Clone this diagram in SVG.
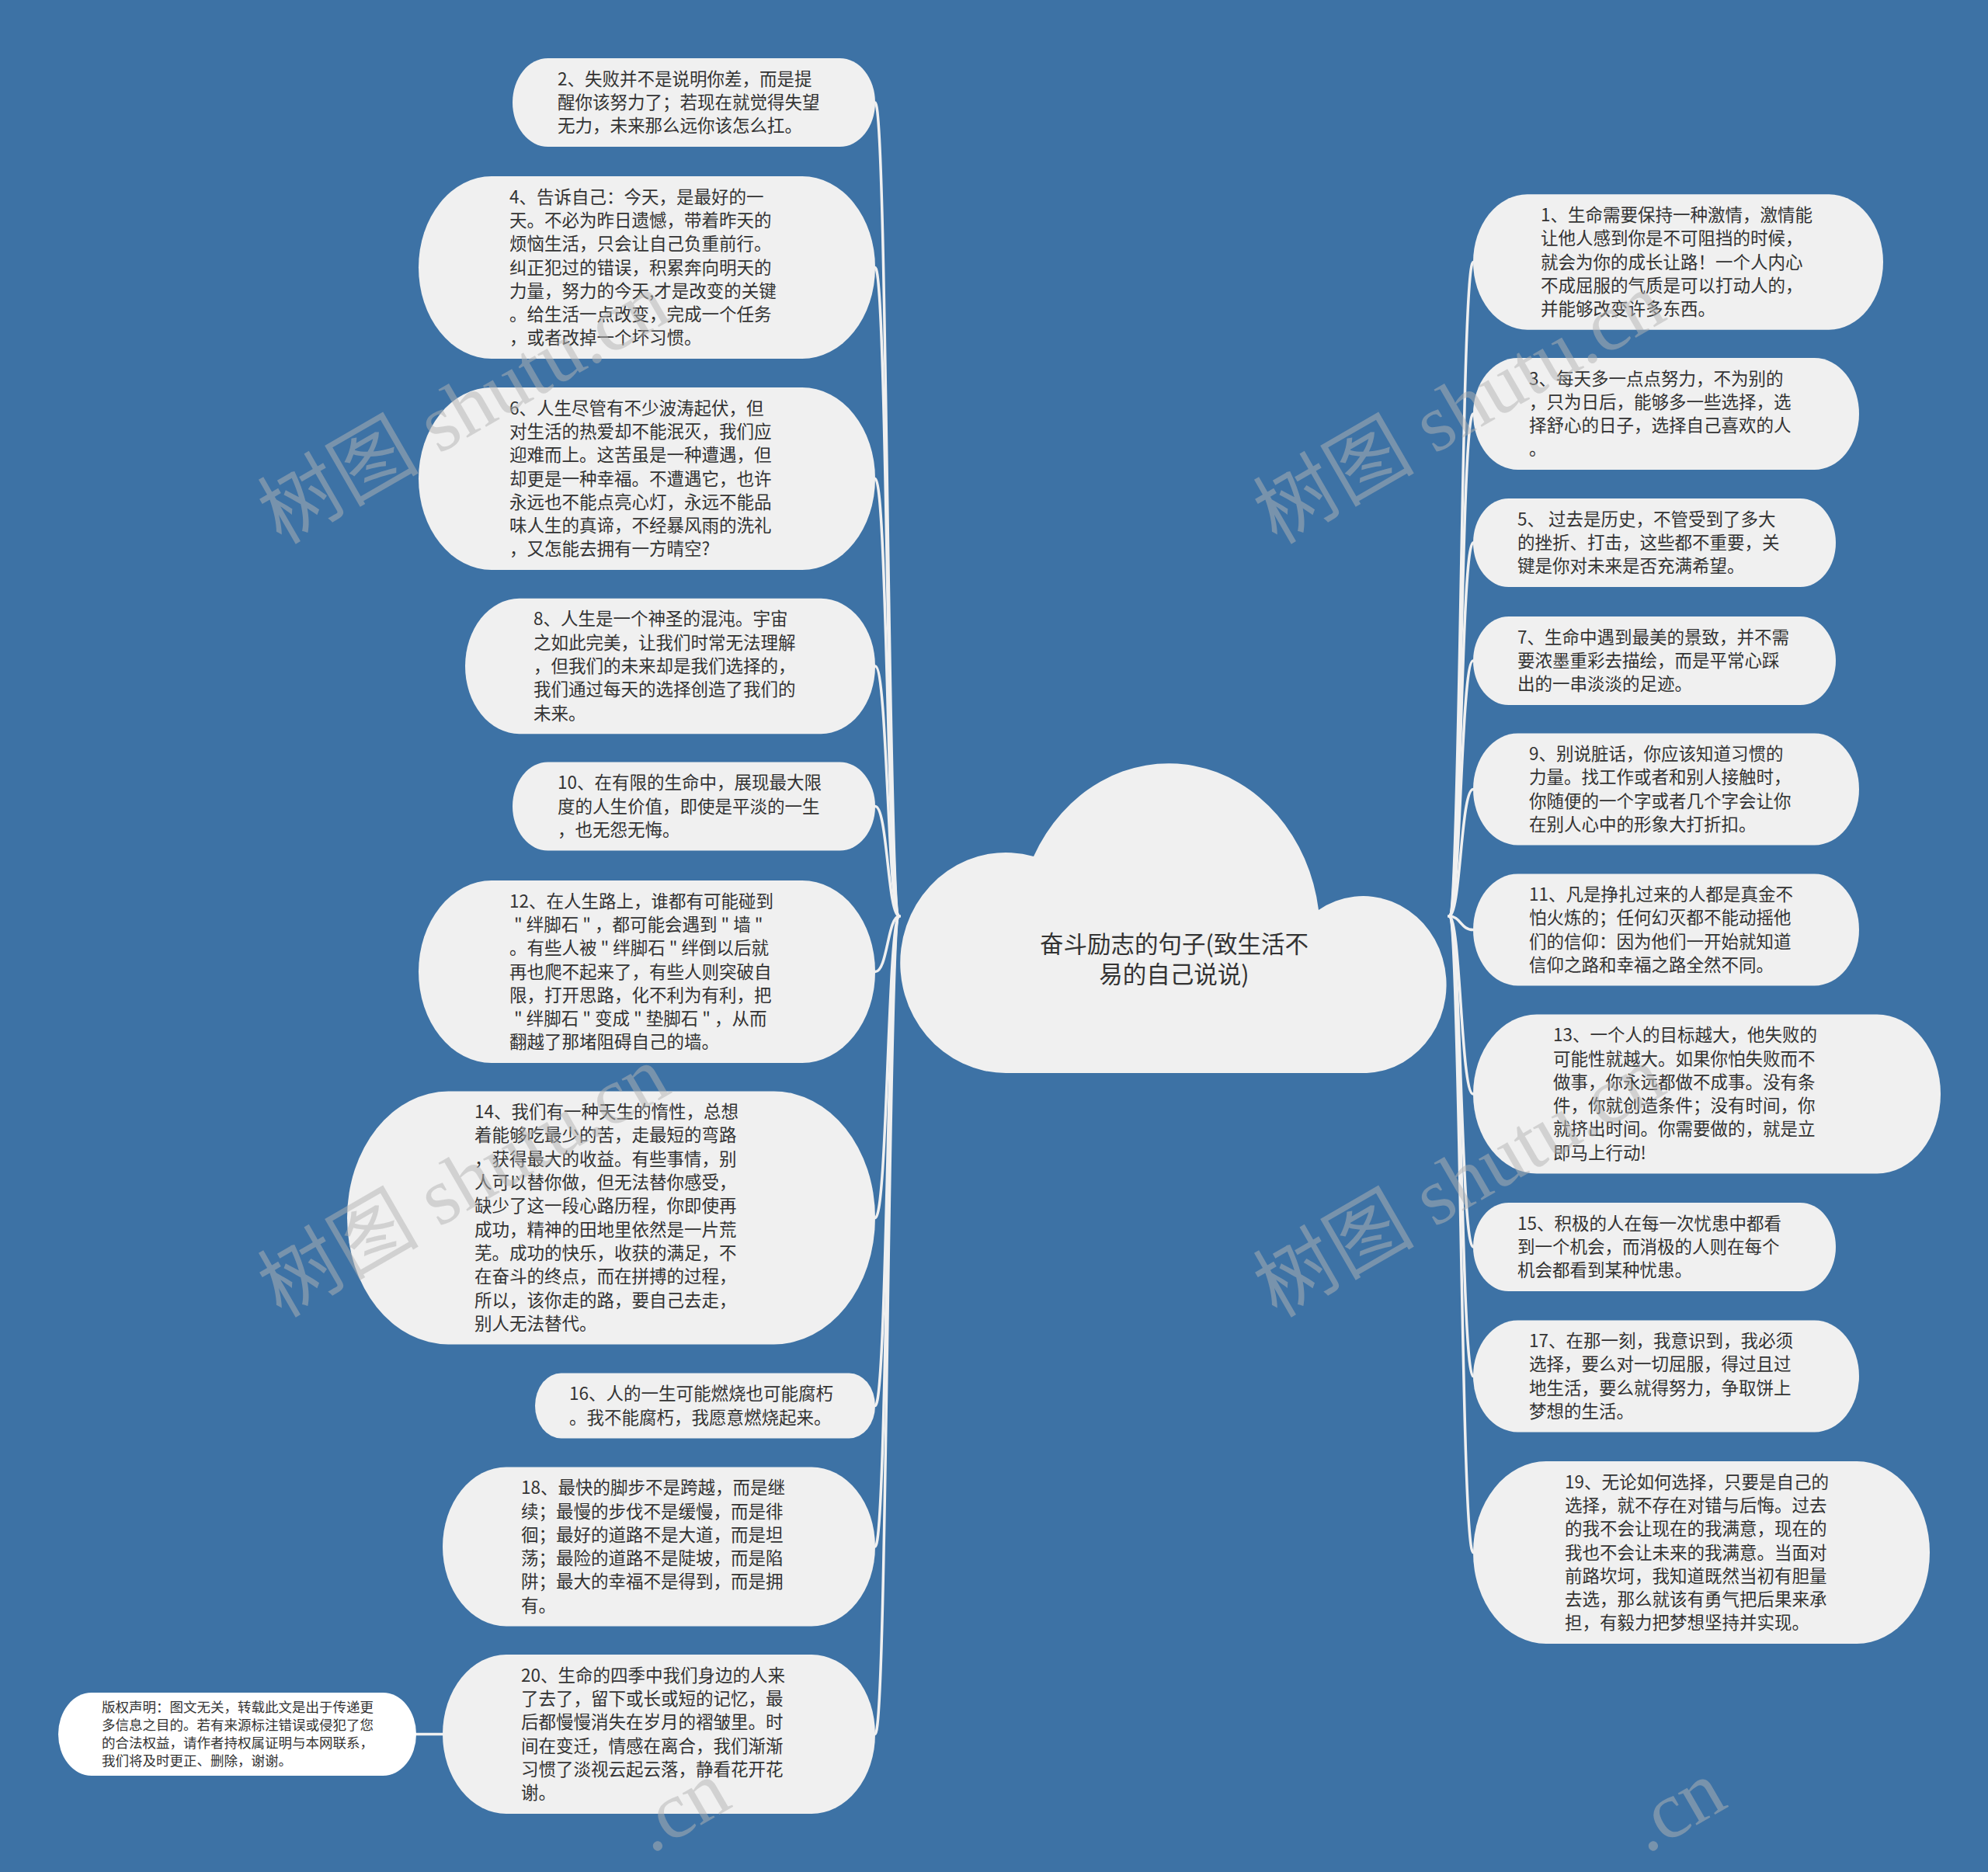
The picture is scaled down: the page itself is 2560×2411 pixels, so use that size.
<svg xmlns="http://www.w3.org/2000/svg" width="2560" height="2411" viewBox="0 0 2560 2411">
<style>
.bg{fill:#3d72a5}
.node{fill:#f0f0f0}
.copy{fill:#ffffff}
.t{font-family:"Noto Sans CJK SC","Noto Sans",sans-serif;font-size:22.5px;fill:#333333}
.ts{font-family:"Noto Sans CJK SC","Noto Sans",sans-serif;font-size:17.5px;fill:#333333}
.title{font-family:"Noto Sans CJK SC","Noto Sans",sans-serif;font-size:30.5px;fill:#333333;text-anchor:middle}
.edge{fill:none;stroke:#f0f0f0;stroke-width:3.5;stroke-linecap:round}
.wm{font-family:"Liberation Serif","Noto Sans CJK SC",serif;font-size:104px;fill:#b4b4b4;opacity:0.5}
</style>
<rect class="bg" x="0" y="0" width="2560" height="2411"/>
<g id="connectors">
<path class="edge" d="M1127,132 C1143,132 1143,1180 1158,1180"/>
<path class="edge" d="M1127,344.5 C1143,344.5 1143,1180 1158,1180"/>
<path class="edge" d="M1127,616.5 C1143,616.5 1143,1180 1158,1180"/>
<path class="edge" d="M1127,858 C1143,858 1143,1180 1158,1180"/>
<path class="edge" d="M1127,1038.5 C1143,1038.5 1143,1180 1158,1180"/>
<path class="edge" d="M1127,1251.5 C1143,1251.5 1143,1180 1158,1180"/>
<path class="edge" d="M1127,1568.5 C1143,1568.5 1143,1180 1158,1180"/>
<path class="edge" d="M1127,1810.5 C1143,1810.5 1143,1180 1158,1180"/>
<path class="edge" d="M1127,1992 C1143,1992 1143,1180 1158,1180"/>
<path class="edge" d="M1127,2233.5 C1143,2233.5 1143,1180 1158,1180"/>
<path class="edge" d="M536,2233.5 L570,2233.5"/>
<path class="edge" d="M1866,1180 C1881,1180 1881,337.5 1897,337.5"/>
<path class="edge" d="M1866,1180 C1881,1180 1881,533 1897,533"/>
<path class="edge" d="M1866,1180 C1881,1180 1881,699 1897,699"/>
<path class="edge" d="M1866,1180 C1881,1180 1881,851 1897,851"/>
<path class="edge" d="M1866,1180 C1881,1180 1881,1016.5 1897,1016.5"/>
<path class="edge" d="M1866,1180 C1881,1180 1881,1197.5 1897,1197.5"/>
<path class="edge" d="M1866,1180 C1881,1180 1881,1409 1897,1409"/>
<path class="edge" d="M1866,1180 C1881,1180 1881,1606 1897,1606"/>
<path class="edge" d="M1866,1180 C1881,1180 1881,1772.5 1897,1772.5"/>
<path class="edge" d="M1866,1180 C1881,1180 1881,1999.5 1897,1999.5"/>
</g>
<g id="root">
<path class="node" d="M1296,1382 A136,142 0 1 1 1331,1103 A195,219 0 0 1 1698,1172 A107,114 0 1 1 1760,1382 Z"/>
<text class="title" x="1512" y="1227"><tspan x="1512">奋斗励志的句子(致生活不</tspan><tspan x="1512" dy="39">易的自己说说)</tspan></text>
</g>
<g id="n2">
<rect class="node" x="660" y="75" width="467" height="114" rx="45.6" ry="57"/>
<text class="t" x="718" y="109.7"><tspan x="718">2、失败并不是说明你差，而是提</tspan><tspan x="718" dy="30.3">醒你该努力了；若现在就觉得失望</tspan><tspan x="718" dy="30.3">无力，未来那么远你该怎么扛。</tspan></text>
</g>
<g id="n4">
<rect class="node" x="539" y="227" width="588" height="235" rx="94" ry="117.5"/>
<text class="t" x="656" y="261.6"><tspan x="656">4、告诉自己：今天，是最好的一</tspan><tspan x="656" dy="30.3">天。不必为昨日遗憾，带着昨天的</tspan><tspan x="656" dy="30.3">烦恼生活，只会让自己负重前行。</tspan><tspan x="656" dy="30.3">纠正犯过的错误，积累奔向明天的</tspan><tspan x="656" dy="30.3">力量，努力的今天,才是改变的关键</tspan><tspan x="656" dy="30.3">。给生活一点改变，完成一个任务</tspan><tspan x="656" dy="30.3">，或者改掉一个坏习惯。</tspan></text>
</g>
<g id="n6">
<rect class="node" x="539" y="499" width="588" height="235" rx="94" ry="117.5"/>
<text class="t" x="656" y="533.6"><tspan x="656">6、人生尽管有不少波涛起伏，但</tspan><tspan x="656" dy="30.3">对生活的热爱却不能泯灭，我们应</tspan><tspan x="656" dy="30.3">迎难而上。这苦虽是一种遭遇，但</tspan><tspan x="656" dy="30.3">却更是一种幸福。不遭遇它，也许</tspan><tspan x="656" dy="30.3">永远也不能点亮心灯，永远不能品</tspan><tspan x="656" dy="30.3">味人生的真谛，不经暴风雨的洗礼</tspan><tspan x="656" dy="30.3">，又怎能去拥有一方晴空?</tspan></text>
</g>
<g id="n8">
<rect class="node" x="599" y="770.75" width="528" height="174.5" rx="69.8" ry="87.25"/>
<text class="t" x="687" y="805.4"><tspan x="687">8、人生是一个神圣的混沌。宇宙</tspan><tspan x="687" dy="30.3">之如此完美，让我们时常无法理解</tspan><tspan x="687" dy="30.3">，但我们的未来却是我们选择的，</tspan><tspan x="687" dy="30.3">我们通过每天的选择创造了我们的</tspan><tspan x="687" dy="30.3">未来。</tspan></text>
</g>
<g id="n10">
<rect class="node" x="660" y="981.5" width="467" height="114" rx="45.6" ry="57"/>
<text class="t" x="718" y="1016.2"><tspan x="718">10、在有限的生命中，展现最大限</tspan><tspan x="718" dy="30.3">度的人生价值，即使是平淡的一生</tspan><tspan x="718" dy="30.3">，也无怨无悔。</tspan></text>
</g>
<g id="n12">
<rect class="node" x="539" y="1134" width="588" height="235" rx="94" ry="117.5"/>
<text class="t" x="656" y="1168.6"><tspan x="656">12、在人生路上，谁都有可能碰到</tspan><tspan x="662" dy="30.3">" 绊脚石 " ，都可能会遇到 " 墙 "</tspan><tspan x="656" dy="30.3">。有些人被 " 绊脚石 " 绊倒以后就</tspan><tspan x="656" dy="30.3">再也爬不起来了，有些人则突破自</tspan><tspan x="656" dy="30.3">限，打开思路，化不利为有利，把</tspan><tspan x="662" dy="30.3">" 绊脚石 " 变成 " 垫脚石 " ，从而</tspan><tspan x="656" dy="30.3">翻越了那堵阻碍自己的墙。</tspan></text>
</g>
<g id="n14">
<rect class="node" x="447" y="1405.5" width="680" height="326" rx="130.4" ry="163"/>
<text class="t" x="611" y="1440.15"><tspan x="611">14、我们有一种天生的惰性，总想</tspan><tspan x="611" dy="30.3">着能够吃最少的苦，走最短的弯路</tspan><tspan x="611" dy="30.3">，获得最大的收益。有些事情，别</tspan><tspan x="611" dy="30.3">人可以替你做，但无法替你感受，</tspan><tspan x="611" dy="30.3">缺少了这一段心路历程，你即使再</tspan><tspan x="611" dy="30.3">成功，精神的田地里依然是一片荒</tspan><tspan x="611" dy="30.3">芜。成功的快乐，收获的满足，不</tspan><tspan x="611" dy="30.3">在奋斗的终点，而在拼搏的过程，</tspan><tspan x="611" dy="30.3">所以，该你走的路，要自己去走，</tspan><tspan x="611" dy="30.3">别人无法替代。</tspan></text>
</g>
<g id="n16">
<rect class="node" x="689" y="1768.5" width="438" height="84" rx="33.6" ry="42"/>
<text class="t" x="733" y="1803.35"><tspan x="733">16、人的一生可能燃烧也可能腐朽</tspan><tspan x="733" dy="30.3">。我不能腐朽，我愿意燃烧起来。</tspan></text>
</g>
<g id="n18">
<rect class="node" x="570" y="1889.5" width="557" height="205" rx="82" ry="102.5"/>
<text class="t" x="671" y="1924.25"><tspan x="671">18、最快的脚步不是跨越，而是继</tspan><tspan x="671" dy="30.3">续；最慢的步伐不是缓慢，而是徘</tspan><tspan x="671" dy="30.3">徊；最好的道路不是大道，而是坦</tspan><tspan x="671" dy="30.3">荡；最险的道路不是陡坡，而是陷</tspan><tspan x="671" dy="30.3">阱；最大的幸福不是得到，而是拥</tspan><tspan x="671" dy="30.3">有。</tspan></text>
</g>
<g id="n20">
<rect class="node" x="570" y="2131" width="557" height="205" rx="82" ry="102.5"/>
<text class="t" x="671" y="2165.75"><tspan x="671">20、生命的四季中我们身边的人来</tspan><tspan x="671" dy="30.3">了去了，留下或长或短的记忆，最</tspan><tspan x="671" dy="30.3">后都慢慢消失在岁月的褶皱里。时</tspan><tspan x="671" dy="30.3">间在变迁，情感在离合，我们渐渐</tspan><tspan x="671" dy="30.3">习惯了淡视云起云落，静看花开花</tspan><tspan x="671" dy="30.3">谢。</tspan></text>
</g>
<g id="copyright">
<rect class="copy" x="75" y="2180" width="461" height="107" rx="42.8" ry="53.5"/>
<text class="ts" x="131" y="2205"><tspan x="131">版权声明：图文无关，转载此文是出于传递更</tspan><tspan x="131" dy="23">多信息之目的。若有来源标注错误或侵犯了您</tspan><tspan x="131" dy="23">的合法权益，请作者持权属证明与本网联系，</tspan><tspan x="131" dy="23">我们将及时更正、删除，谢谢。</tspan></text>
</g>
<g id="n1">
<rect class="node" x="1897" y="250.25" width="528" height="174.5" rx="69.8" ry="87.25"/>
<text class="t" x="1984" y="284.9"><tspan x="1984">1、生命需要保持一种激情，激情能</tspan><tspan x="1984" dy="30.3">让他人感到你是不可阻挡的时候，</tspan><tspan x="1984" dy="30.3">就会为你的成长让路！一个人内心</tspan><tspan x="1984" dy="30.3">不成屈服的气质是可以打动人的，</tspan><tspan x="1984" dy="30.3">并能够改变许多东西。</tspan></text>
</g>
<g id="n3">
<rect class="node" x="1897" y="461" width="497" height="144" rx="57.6" ry="72"/>
<text class="t" x="1969" y="495.55"><tspan x="1969">3、每天多一点点努力，不为别的</tspan><tspan x="1969" dy="30.3">，只为日后，能够多一些选择，选</tspan><tspan x="1969" dy="30.3">择舒心的日子，选择自己喜欢的人</tspan><tspan x="1969" dy="30.3">。</tspan></text>
</g>
<g id="n5">
<rect class="node" x="1897" y="642" width="467" height="114" rx="45.6" ry="57"/>
<text class="t" x="1954" y="676.7"><tspan x="1954">5、 过去是历史，不管受到了多大</tspan><tspan x="1954" dy="30.3">的挫折、打击，这些都不重要，关</tspan><tspan x="1954" dy="30.3">键是你对未来是否充满希望。</tspan></text>
</g>
<g id="n7">
<rect class="node" x="1897" y="794" width="467" height="114" rx="45.6" ry="57"/>
<text class="t" x="1954" y="828.7"><tspan x="1954">7、生命中遇到最美的景致，并不需</tspan><tspan x="1954" dy="30.3">要浓墨重彩去描绘，而是平常心踩</tspan><tspan x="1954" dy="30.3">出的一串淡淡的足迹。</tspan></text>
</g>
<g id="n9">
<rect class="node" x="1897" y="944.5" width="497" height="144" rx="57.6" ry="72"/>
<text class="t" x="1969" y="979.05"><tspan x="1969">9、别说脏话，你应该知道习惯的</tspan><tspan x="1969" dy="30.3">力量。找工作或者和别人接触时，</tspan><tspan x="1969" dy="30.3">你随便的一个字或者几个字会让你</tspan><tspan x="1969" dy="30.3">在别人心中的形象大打折扣。</tspan></text>
</g>
<g id="n11">
<rect class="node" x="1897" y="1125.5" width="497" height="144" rx="57.6" ry="72"/>
<text class="t" x="1969" y="1160.05"><tspan x="1969">11、凡是挣扎过来的人都是真金不</tspan><tspan x="1969" dy="30.3">怕火炼的；任何幻灭都不能动摇他</tspan><tspan x="1969" dy="30.3">们的信仰：因为他们一开始就知道</tspan><tspan x="1969" dy="30.3">信仰之路和幸福之路全然不同。</tspan></text>
</g>
<g id="n13">
<rect class="node" x="1897" y="1306.5" width="602" height="205" rx="82" ry="102.5"/>
<text class="t" x="2000" y="1341.25"><tspan x="2000">13、一个人的目标越大，他失败的</tspan><tspan x="2000" dy="30.3">可能性就越大。如果你怕失败而不</tspan><tspan x="2000" dy="30.3">做事，你永远都做不成事。没有条</tspan><tspan x="2000" dy="30.3">件，你就创造条件；没有时间，你</tspan><tspan x="2000" dy="30.3">就挤出时间。你需要做的，就是立</tspan><tspan x="2000" dy="30.3">即马上行动!</tspan></text>
</g>
<g id="n15">
<rect class="node" x="1897" y="1549" width="467" height="114" rx="45.6" ry="57"/>
<text class="t" x="1954" y="1583.7"><tspan x="1954">15、积极的人在每一次忧患中都看</tspan><tspan x="1954" dy="30.3">到一个机会，而消极的人则在每个</tspan><tspan x="1954" dy="30.3">机会都看到某种忧患。</tspan></text>
</g>
<g id="n17">
<rect class="node" x="1897" y="1700.5" width="497" height="144" rx="57.6" ry="72"/>
<text class="t" x="1969" y="1735.05"><tspan x="1969">17、在那一刻，我意识到，我必须</tspan><tspan x="1969" dy="30.3">选择，要么对一切屈服，得过且过</tspan><tspan x="1969" dy="30.3">地生活，要么就得努力，争取饼上</tspan><tspan x="1969" dy="30.3">梦想的生活。</tspan></text>
</g>
<g id="n19">
<rect class="node" x="1897" y="1882" width="588" height="235" rx="94" ry="117.5"/>
<text class="t" x="2015" y="1916.6"><tspan x="2015">19、无论如何选择，只要是自己的</tspan><tspan x="2015" dy="30.3">选择，就不存在对错与后悔。过去</tspan><tspan x="2015" dy="30.3">的我不会让现在的我满意，现在的</tspan><tspan x="2015" dy="30.3">我也不会让未来的我满意。当面对</tspan><tspan x="2015" dy="30.3">前路坎坷，我知道既然当初有胆量</tspan><tspan x="2015" dy="30.3">去选，那么就该有勇气把后果来承</tspan><tspan x="2015" dy="30.3">担，有毅力把梦想坚持并实现。</tspan></text>
</g>
<g id="watermark">
<text class="wm" transform="translate(362,702) rotate(-30)">树图 shutu.cn</text>
<text class="wm" transform="translate(1644,702) rotate(-30)">树图 shutu.cn</text>
<text class="wm" transform="translate(362,1698) rotate(-30)">树图 shutu.cn</text>
<text class="wm" transform="translate(1644,1698) rotate(-30)">树图 shutu.cn</text>
<text class="wm" transform="translate(838,2388) rotate(-30)">.cn</text>
<text class="wm" transform="translate(2120,2388) rotate(-30)">.cn</text>
</g>
</svg>
